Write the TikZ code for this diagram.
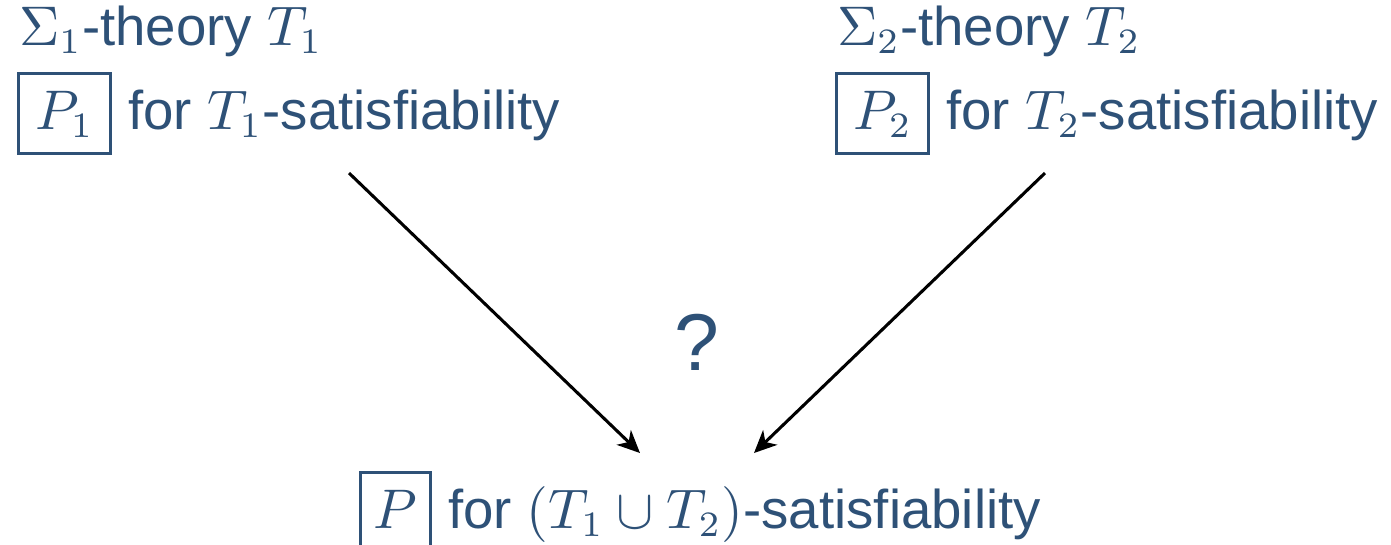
\documentclass[tikz,border=0pt]{standalone}
\usepackage[no-math]{fontspec}
\setmainfont{Liberation Sans}
\usetikzlibrary{positioning, arrows.meta}
\definecolor{ink}{HTML}{2E5177}

\begin{document}
\begin{tikzpicture}[
    x=0.196pt, y=-0.196pt,
    txt/.style={inner sep=0pt, text=ink, font=\fontsize{10.7}{13}\selectfont},
    pbox/.style={txt, draw=ink, line width=0.6pt, inner xsep=3.3pt, inner ysep=0pt, text height=10.9pt, text depth=4.8pt},
    arrow/.style={-{Stealth[length=4.4pt, width=4pt, inset=1.3pt]}, line width=0.6pt, black},
]
\useasboundingbox (0,0) rectangle (1391,544);

% Left theory
\node[txt, anchor=base west] (th1) at (18,45) {$\Sigma_1$-theory $T_1$};
\node[pbox, anchor=base west] (p1) at (17,129) {$P_1$};
\node[txt, base right=2.9pt of p1] (sat1) {for $T_1$-satisfiability};

% Right theory
\node[txt, anchor=base west] (th2) at (836,45) {$\Sigma_2$-theory $T_2$};
\node[pbox, anchor=base west] (p2) at (835,129) {$P_2$};
\node[txt, base right=2.9pt of p2] (sat2) {for $T_2$-satisfiability};

% Combined procedure
\node[pbox, inner xsep=2.6pt, anchor=base west] (p) at (359,528) {$P$};
\node[txt, base right=2.9pt of p] (sat) {for $(T_1 \cup T_2)$-satisfiability};

% Question mark
\node[txt, font=\fontsize{15.8}{18}\selectfont, anchor=base] (q) at (697,370) {?};

%% === Arrows ===
\coordinate (s1) at (349,173);
\coordinate (e1) at (640,453);
\coordinate (s2) at (1045,173);
\coordinate (e2) at (754,453);
\draw[arrow] (s1) -- (e1);
\draw[arrow] (s2) -- (e2);

\end{tikzpicture}
\end{document}
